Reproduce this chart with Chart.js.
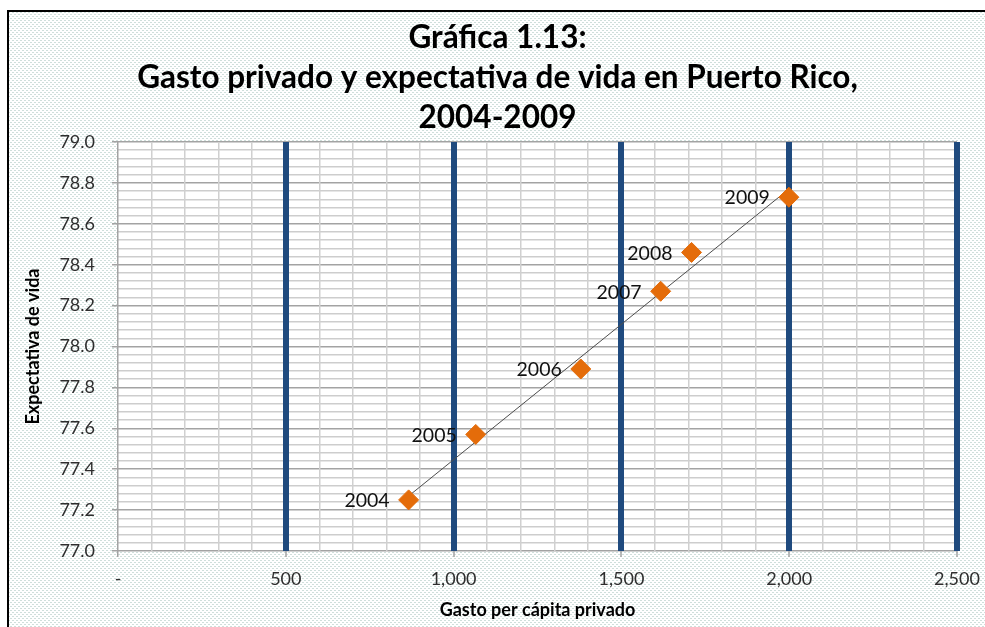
<!DOCTYPE html>
<html>
<head>
<meta charset="utf-8">
<script src="https://cdn.jsdelivr.net/npm/chart.js@4.4.1/dist/chart.umd.min.js"></script>
<style>
  html, body { margin: 0; padding: 0; background: #fff; }
  #wrap { width: 985px; height: 627px; }
</style>
</head>
<body>
<div id="wrap"><canvas id="c" width="985" height="627"></canvas></div>
<script>
// Private spending per capita vs. life expectancy, Puerto Rico 2004-2009
const years = ['2004', '2005', '2006', '2007', '2008', '2009'];
const gastoPrivado = [866, 1066, 1379, 1617, 1709, 1999];
const expectativaVida = [77.25, 77.57, 77.89, 78.27, 78.46, 78.73];
const xTickLabels = { 0: '-', 500: '500', 1000: '1,000', 1500: '1,500', 2000: '2,000', 2500: '2,500' };
const titleLines = ['Gráfica 1.13:', 'Gasto privado y expectativa de vida en Puerto Rico,', '2004-2009'];
const xTitle = 'Gasto per cápita privado';
const yTitle = 'Expectativa de vida';

const FONT = 'Lato, "Open Sans", sans-serif';

// Least-squares linear trend through the observations
function linearFit(xs, ys) {
  const n = xs.length;
  const mx = xs.reduce((s, v) => s + v, 0) / n;
  const my = ys.reduce((s, v) => s + v, 0) / n;
  let sxy = 0, sxx = 0;
  for (let i = 0; i < n; i++) {
    sxy += (xs[i] - mx) * (ys[i] - my);
    sxx += (xs[i] - mx) * (xs[i] - mx);
  }
  const b = sxy / sxx;
  return x => my + b * (x - mx);
}
const fit = linearFit(gastoPrivado, expectativaVida);
const xMin = Math.min(...gastoPrivado), xMax = Math.max(...gastoPrivado);
const trendPoints = [{ x: xMin, y: fit(xMin) }, { x: xMax, y: fit(xMax) }];
const points = gastoPrivado.map((x, i) => ({ x, y: expectativaVida[i] }));

// Dotted backdrop tile
const tile = document.createElement('canvas');
tile.width = 4; tile.height = 4;
(function () {
  const t = tile.getContext('2d');
  t.fillStyle = '#ffffff'; t.fillRect(0, 0, 4, 4);
  t.fillStyle = '#cfdfdb';
  t.fillRect(0, 0, 2, 1);
  t.fillRect(2, 2, 2, 1);
})();

const backdrop = {
  id: 'backdrop',
  beforeDraw(chart) {
    const { ctx, chartArea: a, width, height } = chart;
    ctx.save();
    ctx.fillStyle = '#ffffff';
    ctx.fillRect(0, 0, width, height);
    ctx.fillStyle = ctx.createPattern(tile, 'repeat');
    ctx.fillRect(9, 12, width - 9, height - 12);
    ctx.fillStyle = '#000000';
    ctx.fillRect(7, 10, 2, height - 10);
    ctx.fillRect(7, 10, width - 7, 2);
    ctx.fillStyle = '#ffffff';
    ctx.fillRect(a.left, a.top, a.right - a.left, a.bottom - a.top);
    ctx.restore();
  }
};

// Year labels to the left of each marker
const yearLabels = {
  id: 'yearLabels',
  afterDatasetsDraw(chart) {
    const meta = chart.getDatasetMeta(0);
    const ctx = chart.ctx;
    ctx.save();
    ctx.font = '19.5px ' + FONT;
    ctx.fillStyle = '#111111';
    ctx.textAlign = 'right';
    ctx.textBaseline = 'middle';
    meta.data.forEach((el, i) => {
      ctx.fillText(years[i], el.x - 19, el.y + 1);
    });
    ctx.restore();
  }
};

const isMajorX = v => Math.round(v) % 500 === 0;
const isMajorY = v => Math.round(v * 100) % 20 === 0;

new Chart(document.getElementById('c'), {
  type: 'scatter',
  data: {
    datasets: [
      {
        label: 'Expectativa de vida',
        data: points,
        pointStyle: 'rectRot',
        pointRadius: 10,
        pointHoverRadius: 10,
        backgroundColor: '#E46C0A',
        borderColor: '#E46C0A',
        borderWidth: 1,
        order: 1
      },
      {
        type: 'line',
        label: 'Tendencia',
        data: trendPoints,
        borderColor: '#4d4d4d',
        borderWidth: 1,
        pointRadius: 0,
        fill: false,
        order: 2
      }
    ]
  },
  options: {
    responsive: false,
    animation: false,
    devicePixelRatio: 1,
    layout: { padding: { left: 10, right: 0, top: 8, bottom: 0 } },
    plugins: {
      legend: { display: false },
      tooltip: { enabled: false },
      title: {
        display: true,
        text: titleLines,
        color: '#000000',
        font: { family: FONT, size: 31.5, weight: 'bold', lineHeight: 40 / 31.5 },
        padding: { top: 10, bottom: 4 }
      }
    },
    scales: {
      y: {
        type: 'linear',
        min: 77,
        max: 79,
        afterFit(scale) { scale.width = 108; },
        border: { display: false },
        grid: {
          z: -2,
          drawTicks: true,
          tickLength: 6,
          color: ctx => isMajorY(ctx.tick.value) ? '#a3a3a3' : '#cdcdcd',
          lineWidth: 1.5,
          tickColor: ctx => isMajorY(ctx.tick.value) ? '#a3a3a3' : 'rgba(0,0,0,0)',
          tickWidth: 1.5
        },
        ticks: {
          stepSize: 0.04,
          autoSkip: false,
          padding: 17,
          color: '#2e2e2e',
          font: { family: FONT, size: 18 },
          callback: v => isMajorY(v) ? v.toFixed(1) : ''
        },
        title: {
          display: true,
          text: yTitle,
          color: '#000000',
          font: { family: FONT, size: 18, weight: 'bold' },
          padding: { top: 12, bottom: 0 }
        }
      },
      x: {
        type: 'linear',
        min: 0,
        max: 2500,
        afterFit(scale) { scale.height = 76; scale.paddingRight = 28; scale.paddingLeft = 0; },
        border: { display: false },
        grid: {
          z: -1,
          drawTicks: true,
          tickLength: 6,
          color: ctx => (ctx.tick.value !== 0 && isMajorX(ctx.tick.value)) ? '#1F4A7E' : (ctx.tick.value === 0 ? '#a3a3a3' : '#d0d0d0'),
          lineWidth: ctx => (ctx.tick.value !== 0 && isMajorX(ctx.tick.value)) ? 6 : 1.5,
          tickColor: ctx => isMajorX(ctx.tick.value) ? '#a3a3a3' : 'rgba(0,0,0,0)',
          tickWidth: 1.5
        },
        ticks: {
          stepSize: 100,
          autoSkip: false,
          maxRotation: 0,
          minRotation: 0,
          padding: 11,
          color: '#2e2e2e',
          font: { family: FONT, size: 18 },
          callback: v => (xTickLabels[v] !== undefined ? xTickLabels[v] : '')
        },
        title: {
          display: true,
          text: xTitle,
          color: '#000000',
          font: { family: FONT, size: 18, weight: 'bold' },
          padding: { top: 0, bottom: 6 }
        }
      }
    }
  },
  plugins: [backdrop, yearLabels]
});
</script>
</body>
</html>
